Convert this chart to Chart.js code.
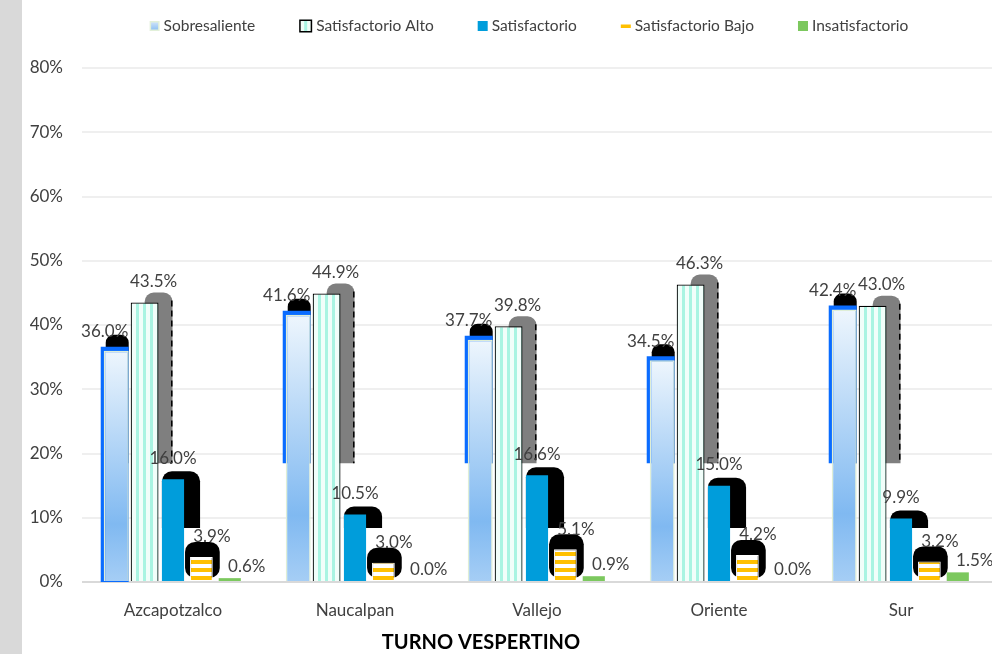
<!DOCTYPE html>
<html>
<head>
<meta charset="utf-8">
<script src="https://cdn.jsdelivr.net/npm/chart.js@4.4.1/dist/chart.umd.min.js"></script>
<style>
  html, body { margin: 0; padding: 0; background: #fff; }
  #wrap { width: 970px; height: 654px; border-left: 22px solid #d9d9d9; }
</style>
</head>
<body>
<div id="wrap"><canvas id="chart" width="970" height="654"></canvas></div>
<script>
const categories = ["Azcapotzalco", "Naucalpan", "Vallejo", "Oriente", "Sur"];
const sobresaliente = [36.0, 41.6, 37.7, 34.5, 42.4];
const satisfactorioAlto = [43.5, 44.9, 39.8, 46.3, 43.0];
const satisfactorio = [16.0, 10.5, 16.6, 15.0, 9.9];
const satisfactorioBajo = [3.9, 3.0, 5.1, 4.2, 3.2];
const insatisfactorio = [0.6, 0.0, 0.9, 0.0, 1.5];
const yTicks = [0, 10, 20, 30, 40, 50, 60, 70, 80];
const chartTitle = "TURNO VESPERTINO";

const textColor = "#404040";
const fontFamily = "Lato, 'Noto Sans', sans-serif";

// fill patterns
const makePattern = (w, h, draw) => {
  const c = document.createElement("canvas");
  c.width = w;
  c.height = h;
  draw(c.getContext("2d"));
  return document.getElementById("chart").getContext("2d").createPattern(c, "repeat");
};
const altoPattern = makePattern(7, 8, (g) => {
  g.fillStyle = "#f1fefa";
  g.fillRect(0, 0, 7, 8);
  g.fillStyle = "#a9f4e2";
  g.fillRect(2, 0, 3, 8);
});
const bajoPattern = makePattern(8, 8, (g) => {
  g.fillStyle = "#ffffff";
  g.fillRect(0, 0, 8, 8);
  g.fillStyle = "#ffc000";
  g.fillRect(0, 0, 8, 4);
});

const sobreGradient = (context) => {
  const { chart, dataIndex } = context;
  if (!chart.chartArea || dataIndex === undefined) return "#a4ccf4";
  const y = chart.scales.y;
  const top = y.getPixelForValue(sobresaliente[dataIndex]);
  const bottom = y.getPixelForValue(0);
  const g = chart.ctx.createLinearGradient(0, top, 0, bottom);
  g.addColorStop(0, "#eef6fd");
  g.addColorStop(0.75, "#80b9f1");
  g.addColorStop(1, "#a6cef5");
  return g;
};

// Excel-like shadow shapes behind the bars
const shadowPlugin = {
  id: "excelShadows",
  beforeDatasetsDraw(chart) {
    const { ctx } = chart;
    const yScale = chart.scales.y;
    chart.data.datasets.forEach((ds, i) => {
      const meta = chart.getDatasetMeta(i);
      (ds.shadows || []).forEach((sh) => {
        meta.data.forEach((bar, j) => {
          if (!(ds.data[j] > 0)) return;
          const p = bar.getProps(["x", "y", "width", "base"], true);
          const left = p.x - p.width / 2 + sh.left;
          const right = p.x + p.width / 2 + sh.right;
          const top = p.y + sh.top;
          let clipVal = sh.clip;
          if (j === 0 && sh.clipFirst !== undefined) clipVal = sh.clipFirst;
          const bottom = (clipVal !== undefined ? yScale.getPixelForValue(clipVal) : p.base) + (sh.bottom || 0);
          if (bottom <= top) return;
          ctx.save();
          ctx.beginPath();
          ctx.roundRect(left, top, right - left, bottom - top, sh.radius);
          ctx.fillStyle = sh.color;
          ctx.fill();
          if (sh.dashed) {
            ctx.beginPath();
            ctx.setLineDash([6, 4]);
            ctx.lineWidth = 1.5;
            ctx.strokeStyle = "#000";
            ctx.moveTo(right - 0.75, top + 8);
            ctx.lineTo(right - 0.75, bottom);
            ctx.stroke();
          }
          ctx.restore();
        });
      });
    });
  },
};

const labelPlugin = {
  id: "valueLabels",
  afterDatasetsDraw(chart) {
    const { ctx } = chart;
    ctx.save();
    ctx.font = `17px ${fontFamily}`;
    ctx.fillStyle = textColor;
    ctx.textAlign = "center";
    ctx.textBaseline = "middle";
    chart.data.datasets.forEach((ds, i) => {
      const meta = chart.getDatasetMeta(i);
      meta.data.forEach((bar, j) => {
        const p = bar.getProps(["x", "y"], true);
        ctx.fillText(ds.data[j].toFixed(1) + "%", p.x + ds.labelDx, p.y - ds.labelDy);
      });
    });
    ctx.restore();
  },
};

const legendPlugin = {
  id: "excelLegend",
  afterDraw(chart) {
    const { ctx } = chart;
    ctx.save();
    ctx.font = `15.5px ${fontFamily}`;
    ctx.textBaseline = "middle";
    const cy = 26;
    const gapText = 4;
    const gapItem = 44;
    const items = chart.data.datasets.map((ds) => ({
      ds,
      w: ds.legendBox,
      tw: ctx.measureText(ds.label).width,
    }));
    const total = items.reduce((s, it) => s + it.w + gapText + it.tw, 0) + gapItem * (items.length - 1);
    let x = 507 - total / 2;
    items.forEach((it) => {
      it.ds.drawSwatch(ctx, x, cy);
      ctx.fillStyle = textColor;
      ctx.fillText(it.ds.label, x + it.w + gapText, cy);
      x += it.w + gapText + it.tw + gapItem;
    });
    ctx.restore();
  },
};

const titlePlugin = {
  id: "bottomTitle",
  afterDraw(chart) {
    const { ctx } = chart;
    ctx.save();
    ctx.font = `bold 20px ${fontFamily}`;
    ctx.fillStyle = "#000";
    ctx.textAlign = "center";
    ctx.textBaseline = "middle";
    ctx.fillText(chartTitle, 459, 643);
    ctx.restore();
  },
};

const slot = 0.78;

new Chart(document.getElementById("chart"), {
  type: "bar",
  data: {
    labels: categories,
    datasets: [
      {
        label: "Sobresaliente",
        data: sobresaliente,
        backgroundColor: sobreGradient,
        borderColor: "#dfeed6",
        borderWidth: 1.5,
        barPercentage: 0.88,
        categoryPercentage: slot,
        labelDx: -11.5,
        labelDy: 19,
        legendBox: 10,
        drawSwatch(ctx, x, cy) {
          const g = ctx.createLinearGradient(0, cy - 5, 0, cy + 5);
          g.addColorStop(0, "#d6e8fb");
          g.addColorStop(1, "#86bcf1");
          ctx.fillStyle = "#e2f0d9";
          ctx.fillRect(x, cy - 5, 10, 10);
          ctx.fillStyle = g;
          ctx.fillRect(x + 1.5, cy - 3.5, 7, 7);
        },
        shadows: [
          { color: "#000", left: 2, right: 0, top: -16, radius: [8, 8, 0, 0], clip: 18.5 },
          { color: "#0a6cff", left: -3, right: 0, top: -4, radius: 0, clip: 18.5, clipFirst: 0 },
        ],
      },
      {
        label: "Satisfactorio Alto",
        data: satisfactorioAlto,
        backgroundColor: altoPattern,
        borderColor: "#000",
        borderWidth: 1.2,
        barPercentage: 0.98,
        categoryPercentage: slot,
        labelDx: 9,
        labelDy: 21,
        legendBox: 13,
        drawSwatch(ctx, x, cy) {
          ctx.fillStyle = "#effdf7";
          ctx.fillRect(x, cy - 6.5, 13, 13);
          ctx.fillStyle = "#a9f4e2";
          ctx.fillRect(x + 5, cy - 5, 3, 10);
          ctx.strokeStyle = "#000";
          ctx.lineWidth = 1.5;
          ctx.strokeRect(x + 0.75, cy - 5.75, 11.5, 11.5);
        },
        shadows: [
          { color: "#7f7f7f", left: 14, right: 14, top: -10, radius: [9, 9, 0, 0], clip: 18.5, dashed: true },
        ],
      },
      {
        label: "Satisfactorio",
        data: satisfactorio,
        backgroundColor: "#009ddb",
        borderWidth: 0,
        barPercentage: 0.78,
        categoryPercentage: slot,
        labelDx: 0,
        labelDy: 21,
        legendBox: 10,
        drawSwatch(ctx, x, cy) {
          ctx.fillStyle = "#009ddb";
          ctx.fillRect(x, cy - 5, 10, 10);
        },
        shadows: [
          { color: "#000", left: 0, right: 16, top: -8, radius: [10, 10, 0, 0], clip: 8.4 },
        ],
      },
      {
        label: "Satisfactorio Bajo",
        data: satisfactorioBajo,
        backgroundColor: bajoPattern,
        borderColor: "#ffffff",
        borderWidth: 1,
        barPercentage: 0.8,
        categoryPercentage: slot,
        labelDx: 10.5,
        labelDy: 20,
        legendBox: 10,
        drawSwatch(ctx, x, cy) {
          ctx.fillStyle = "#ffc000";
          ctx.fillRect(x, cy - 1.5, 10, 3.5);
        },
        shadows: [
          { color: "#000", left: -5, right: 7, top: -15, bottom: -3, radius: 10 },
        ],
      },
      {
        label: "Insatisfactorio",
        data: insatisfactorio,
        backgroundColor: "#7cc85e",
        borderWidth: 0,
        barPercentage: 0.78,
        categoryPercentage: slot,
        labelDx: 17,
        labelDy: 12,
        legendBox: 10,
        drawSwatch(ctx, x, cy) {
          ctx.fillStyle = "#7cc85e";
          ctx.fillRect(x, cy - 5, 10, 10);
        },
      },
    ],
  },
  options: {
    responsive: false,
    animation: false,
    layout: { padding: { top: 68, left: 0, right: 0, bottom: 0 } },
    plugins: {
      legend: { display: false },
      title: { display: false },
      tooltip: { enabled: false },
    },
    scales: {
      x: {
        afterFit: (scale) => { scale.height = 72; },
        grid: { display: false },
        border: { display: false },
        ticks: {
          color: textColor,
          padding: 10,
          font: { family: fontFamily, size: 17 },
        },
      },
      y: {
        min: 0,
        max: 80,
        afterFit: (scale) => { scale.width = 60; },
        afterBuildTicks: (scale) => {
          scale.ticks = yTicks.map((v) => ({ value: v }));
        },
        border: { display: false },
        grid: {
          drawTicks: false,
          lineWidth: 2,
          color: (c) => (c.tick && c.tick.value === 0 ? "#d9d9d9" : "#efefef"),
        },
        ticks: {
          color: textColor,
          padding: 19,
          font: { family: fontFamily, size: 17 },
          callback: (v) => v + "%",
        },
      },
    },
  },
  plugins: [shadowPlugin, labelPlugin, legendPlugin, titlePlugin],
});
</script>
</body>
</html>
